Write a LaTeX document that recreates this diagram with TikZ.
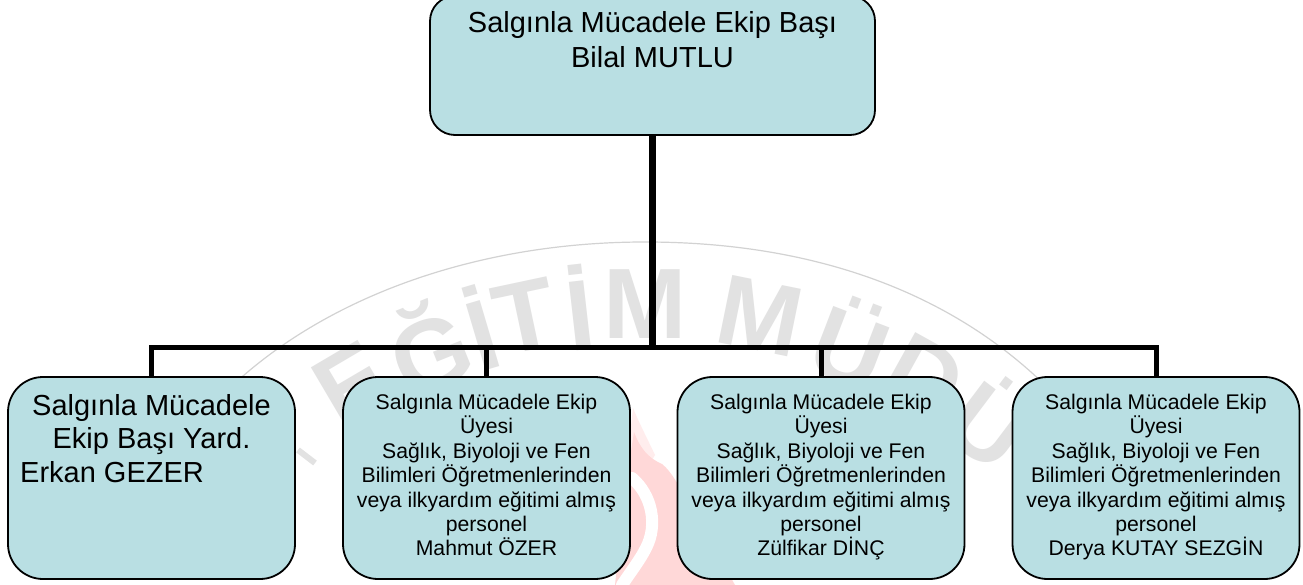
\documentclass[tikz,border=0pt]{standalone}
\usepackage{fontspec}
\setmainfont{Liberation Sans}
\definecolor{boxfill}{HTML}{B9DFE3}
\definecolor{wmgray}{HTML}{E2E2E2}
\definecolor{wmarc}{HTML}{D2D2D2}
\definecolor{flame}{HTML}{FFD8D8}
\newcommand{\bigtext}{\fontsize{29}{35}\selectfont}
\newcommand{\midtext}{\fontsize{29}{33.5}\selectfont}
\newcommand{\smalltext}{\fontsize{21.2}{24.4}\selectfont}
\newcommand{\uyetext}[1]{Salgınla Mücadele Ekip\\Üyesi\\Sağlık, Biyoloji ve Fen\\Bilimleri Öğretmenlerinden\\veya ilkyardım eğitimi almış\\personel\\#1}
\tikzset{
  x=1pt,y=-1pt,
  orgbox/.style={draw=black,line width=1.8pt,fill=boxfill,rounded corners=35pt,inner sep=0pt,minimum width=287pt,minimum height=202pt},
  conn/.style={draw=black,line width=5pt},
  trunk/.style={draw=black,line width=6.5pt},
  wmletter/.style={text=wmgray,font=\fontsize{100}{100}\selectfont\bfseries,inner sep=0pt},
  lbl/.style={inner sep=0pt,align=center,text=black},
}
\begin{document}
\begin{tikzpicture}
\useasboundingbox (0,0) rectangle (1303,585);
\fill[white] (0,0) rectangle (1303,585);
% watermark seal
\draw[wmarc,line width=1.2pt] (233,385) .. controls (330,295) and (480,242) .. (645,242) .. controls (810,242) and (950,290) .. (1050,390);
\foreach \a/\l [count=\i] in {-30.5/E,-22/Ğ,-16.5/İ,-12/T,-6.5/İ,0/M,11.5/M,21/Ü,29/D,37/Ü}{
  \node[wmletter,rotate=-\a,name=wm\i] at ({645+578*sin(\a)},{882-578*cos(\a)}) {\l};
}
\coordinate (wsa) at (298,450);
\coordinate (wsb) at (315,463);
\draw[wmgray,line width=6pt] (wsa) -- (wsb);
% flame
\fill[flame!45] (633,408) .. controls (640,425) and (648,440) .. (655,455) -- (640,480) -- (625,480) -- cycle;
\fill[flame] (634,432) .. controls (640,448) and (648,458) .. (662,464) .. controls (672,472) and (678,485) .. (690,505) -- (735,585) -- (615,585) -- (625,490) -- cycle;
\draw[white,line width=12pt,line cap=round] (632,478) .. controls (652,495) and (658,525) .. (646,548) .. controls (640,560) and (632,570) .. (622,585);
% boxes
\node[orgbox,minimum width=445pt,minimum height=139pt,rounded corners=25pt] (top) at (652.5,65.5) {};
\node[orgbox] (b1) at (151.5,478) {};
\node[orgbox] (b2) at (486.5,478) {};
\node[orgbox] (b3) at (821,478) {};
\node[orgbox] (b4) at (1156,478) {};
% connectors
\coordinate (j) at (top.south |- 0,347);
\draw[trunk] (top.south) -- (j);
\draw[conn] (b1.north) |- (j);
\draw[conn] (b2.north) |- (j);
\draw[conn] (b3.north) |- (j);
\draw[conn] (b4.north) |- (j);
% labels
\node[lbl,font=\bigtext,anchor=north] (topt) at (652.5,11) {Salgınla Mücadele Ekip Başı\\Bilal MUTLU};
\node[lbl,font=\midtext,anchor=north] (b1t) at (151.5,394) {Salgınla Mücadele\\Ekip Başı Yard.};
\node[lbl,font=\midtext,anchor=north west] (b1n) at (20,461) {Erkan GEZER};
\node[lbl,font=\smalltext,anchor=north] (b2t) at (486.5,394) {\uyetext{Mahmut ÖZER}};
\node[lbl,font=\smalltext,anchor=north] (b3t) at (821,394) {\uyetext{Zülfikar DİNÇ}};
\node[lbl,font=\smalltext,anchor=north] (b4t) at (1156,394) {\uyetext{Derya KUTAY SEZGİN}};
\end{tikzpicture}
\end{document}
